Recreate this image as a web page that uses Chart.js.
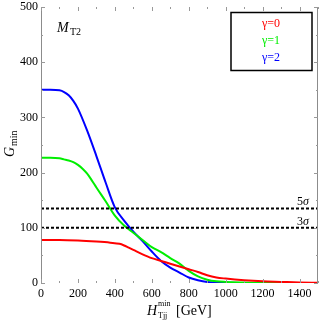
<!DOCTYPE html>
<html>
<head>
<meta charset="utf-8">
<script src="https://cdn.jsdelivr.net/npm/chart.js@4"></script>
<style>
  html, body { margin: 0; padding: 0; background: #fff; }
  #wrap { width: 319px; height: 323px; }
</style>
</head>
<body>
<div id="wrap"><canvas id="gminChart" width="319" height="323"></canvas></div>
<script>
// data
const redX = [0, 100, 200, 300, 375, 425, 450, 475, 500, 550, 600, 650, 700, 750, 800, 850, 900, 950, 1000, 1100, 1200, 1300, 1400, 1500];
const redY = [78, 78, 77, 75, 73, 71, 68, 64, 60, 52, 45, 40, 35, 30, 25, 20, 14, 10, 8, 5, 3, 2, 1, 0.5];

const greenX = [0, 50, 100, 125, 150, 175, 200, 225, 250, 275, 300, 350, 400, 450, 500, 550, 600, 650, 700, 750, 800, 850, 900, 950, 1000, 1200, 1500];
const greenY = [227, 227, 226, 224, 222, 219, 214, 207, 198, 186, 173, 148, 122, 104, 91, 78, 65, 56, 45, 35, 22, 12, 6, 3, 2, 0.5, 0];

const blueX = [0, 50, 100, 125, 150, 175, 200, 250, 300, 350, 400, 450, 500, 550, 600, 650, 700, 750, 800, 850, 900, 1000, 1200, 1500];
const blueY = [350, 350, 349, 346, 340, 330, 316, 276, 230, 182, 137, 113, 93, 76, 57, 40, 28, 19, 10, 5, 2, 0.5, 0, 0];

const sigmaLevels = [135, 100];
const sigmaLabels = ["5", "3"];
const legendLabels = ["γ=0", "γ=1", "γ=2"];
const seriesColors = ["#ff0000", "#00ee00", "#0000ff"];

const xTicks = [0, 200, 400, 600, 800, 1000, 1200, 1400];
const yTicks = [0, 100, 200, 300, 400, 500];

const SERIF = "'Liberation Serif', 'DejaVu Serif', serif";

function toPoints(xs, ys) {
  return xs.map((x, i) => ({ x, y: ys[i] }));
}

/* -------------------- frame, ticks and labels -------------------- */

const framePlugin = {
  id: "frame",
  afterDraw(chart) {
    const ctx = chart.ctx;
    const a = chart.chartArea;
    const xs = chart.scales.x;
    const ys = chart.scales.y;
    ctx.save();

    // left and right axis lines
    ctx.strokeStyle = "#8c8c8c";
    ctx.lineWidth = 1;
    ctx.beginPath();
    ctx.moveTo(a.left + 0.5, a.top);
    ctx.lineTo(a.left + 0.5, a.bottom);
    ctx.moveTo(a.right - 0.5, a.top);
    ctx.lineTo(a.right - 0.5, a.bottom);
    ctx.stroke();

    // ticks, major and minor
    ctx.strokeStyle = "#999";
    ctx.beginPath();
    for (let v = 0; v <= 1500; v += 100) {
      const px = Math.round(xs.getPixelForValue(v)) + 0.5;
      const len = v % 200 === 0 ? 4 : 2;
      ctx.moveTo(px, a.bottom);
      ctx.lineTo(px, a.bottom - len);
      ctx.moveTo(px, a.top);
      ctx.lineTo(px, a.top + len);
    }
    for (let v = 0; v <= 500; v += 50) {
      const py = Math.round(ys.getPixelForValue(v)) + 0.5;
      const len = v % 100 === 0 ? 4 : 2;
      ctx.moveTo(a.left, py);
      ctx.lineTo(a.left + len, py);
      ctx.moveTo(a.right, py);
      ctx.lineTo(a.right - len, py);
    }
    ctx.stroke();

    // tick labels
    ctx.fillStyle = "#000";
    ctx.font = "12px " + SERIF;
    ctx.textAlign = "center";
    ctx.textBaseline = "top";
    xTicks.forEach(v => ctx.fillText(String(v), xs.getPixelForValue(v), a.bottom + 5));
    ctx.textAlign = "right";
    ctx.textBaseline = "middle";
    yTicks.forEach(v => ctx.fillText(String(v), a.left - 3, ys.getPixelForValue(v)));

    // sigma labels
    ctx.textAlign = "left";
    ctx.textBaseline = "alphabetic";
    sigmaLevels.forEach((lvl, i) => {
      const py = ys.getPixelForValue(lvl) - 3;
      ctx.font = "12px " + SERIF;
      ctx.fillText(sigmaLabels[i], 297, py);
      ctx.font = "italic 12px " + SERIF;
      ctx.fillText("σ", 303, py);
    });

    // M_T2 label
    ctx.font = "italic 14px " + SERIF;
    ctx.fillText("M", 57, 32);
    ctx.font = "10px " + SERIF;
    ctx.fillText("T2", 70, 35);

    // x title
    ctx.font = "italic 14px " + SERIF;
    ctx.fillText("H", 147, 315);
    ctx.font = "8px " + SERIF;
    ctx.fillText("min", 158, 306);
    ctx.fillText("Tjj", 158, 318);
    ctx.font = "14px " + SERIF;
    ctx.fillText("[GeV]", 176, 315);

    // y title
    ctx.save();
    ctx.translate(14, 157);
    ctx.rotate(-Math.PI / 2);
    ctx.font = "italic 14px " + SERIF;
    ctx.fillText("G", 0, 0);
    ctx.font = "10px " + SERIF;
    ctx.fillText("min", 11, 3);
    ctx.restore();

    // legend box
    ctx.strokeStyle = "#000";
    ctx.lineWidth = 1.5;
    ctx.strokeRect(231, 12.5, 81, 58);
    ctx.font = "12px " + SERIF;
    ctx.textAlign = "center";
    ctx.textBaseline = "middle";
    legendLabels.forEach((t, i) => {
      ctx.fillStyle = seriesColors[i];
      ctx.fillText(t, 271, 24 + i * 17);
    });

    ctx.restore();
  }
};

/* -------------------- chart -------------------- */

function buildChart() {
  const ctx = document.getElementById("gminChart").getContext("2d");

  const curves = [redX, greenX, blueX].map((xs, i) => ({
    data: toPoints(xs, [redY, greenY, blueY][i]),
    borderColor: seriesColors[i],
    borderWidth: 2,
    pointRadius: 0,
    fill: false,
    cubicInterpolationMode: "monotone"
  }));

  const sigmaLines = sigmaLevels.map(lvl => ({
    data: [{ x: 0, y: lvl }, { x: 1500, y: lvl }],
    borderColor: "#000",
    borderWidth: 2,
    borderDash: [3, 2],
    pointRadius: 0,
    fill: false
  }));

  new Chart(ctx, {
    type: "line",
    data: { datasets: [...sigmaLines, ...curves] },
    options: {
      responsive: false,
      animation: false,
      layout: { padding: { top: 7, right: 1, left: 0, bottom: 0 } },
      plugins: { legend: { display: false }, tooltip: { enabled: false } },
      scales: {
        x: {
          type: "linear",
          min: 0,
          max: 1500,
          grid: { display: false },
          border: { display: false },
          ticks: { display: false },
          afterFit(scale) { scale.height = 40; }
        },
        y: {
          min: 0,
          max: 500,
          grid: { display: false },
          border: { display: false },
          ticks: { display: false },
          afterFit(scale) { scale.width = 41; }
        }
      }
    },
    plugins: [framePlugin]
  });
}

window.addEventListener("DOMContentLoaded", buildChart);
</script>
</body>
</html>
